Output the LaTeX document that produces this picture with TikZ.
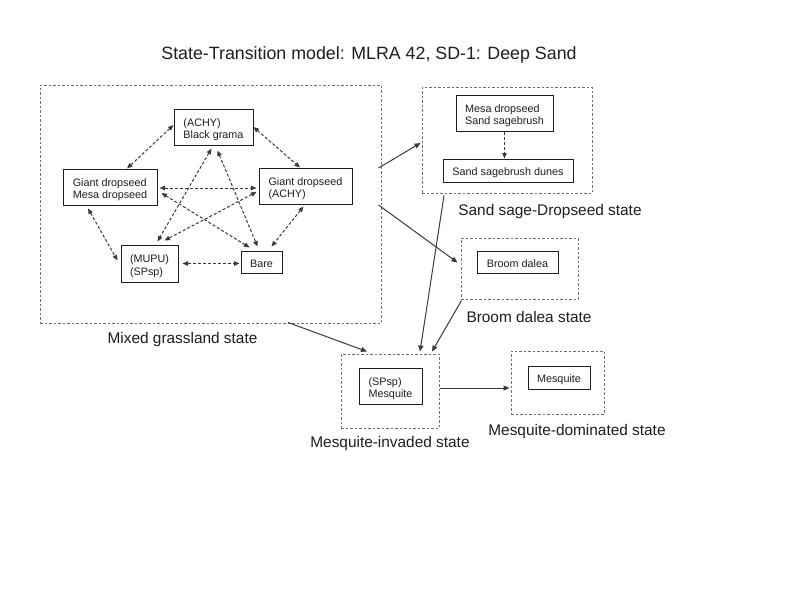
\documentclass[tikz,border=0pt]{standalone}
\usepackage{fontspec}
\setmainfont{Liberation Sans}
\usetikzlibrary{arrows.meta,calc}
\definecolor{txt}{HTML}{1E1E1E}
\definecolor{dashbox}{HTML}{707070}
\definecolor{arr}{HTML}{3A3A3A}
\newcommand{\upstrut}{\rule{0pt}{13pt}}
\tikzset{
  twobox/.style={draw=txt, line width=1pt, align=left, inner sep=0pt, text=txt,
    font=\fontsize{10.8}{12.7}\selectfont},
  box/.style={twobox, execute at begin node={\rule{0pt}{12pt}}},
  statebox/.style={draw=dashbox, line width=1pt, dash pattern=on 2.5pt off 2pt},
  statelabel/.style={text=txt, inner sep=0pt, font=\fontsize{15.4}{18}\selectfont},
  dasharrow/.style={draw=arr, line width=1pt, dash pattern=on 3pt off 2pt,
    {Triangle[length=5.5pt,width=4.5pt]}-{Triangle[length=5.5pt,width=4.5pt]}},
  onedash/.style={draw=arr, line width=1pt, dash pattern=on 3pt off 2pt,
    -{Triangle[length=5.5pt,width=4.5pt]}},
  solidarrow/.style={draw=arr, line width=1pt, -{Triangle[length=6pt,width=5pt]}},
}
\begin{document}
\begin{tikzpicture}[x=1pt,y=-1pt]
\fill[white] (0,0) rectangle (800,600);
\useasboundingbox (0,0) rectangle (800,600);

% title
\node[text=txt, inner sep=0pt, font=\fontsize{17.8}{20}\selectfont] (title) at (369,55) {State-Transition model: MLRA 42, SD-1: Deep Sand};

% state boxes
\node[statebox, minimum width=341pt, minimum height=238pt] (mixed) at (210.5,204) {};
\node[statebox, minimum width=170pt, minimum height=106pt] (sandbox) at (507,140) {};
\node[statebox, minimum width=117pt, minimum height=61pt] (broombox) at (519.5,268.5) {};
\node[statebox, minimum width=98pt, minimum height=74pt] (invbox) at (390,391) {};
\node[statebox, minimum width=93pt, minimum height=63pt] (dombox) at (557.5,382.5) {};

% state labels
\node[statelabel] (mixedlab) at (182.5,339.5) {Mixed grassland state};
\node[statelabel] (sandlab) at (550,211.5) {Sand sage-Dropseed state};
\node[statelabel] (broomlab) at (529,316.5) {Broom dalea state};
\node[statelabel] (invlab) at (390,443.5) {Mesquite-invaded state};
\node[statelabel] (domlab) at (577,431.5) {Mesquite-dominated state};

% community boxes
\node[twobox, minimum width=79pt, minimum height=36pt] (achy) at (213.5,127) {\upstrut(ACHY)\\Black grama};
\node[twobox, minimum width=94pt, minimum height=36pt] (gm) at (110,187) {\upstrut Giant dropseed\\Mesa dropseed};
\node[twobox, minimum width=93pt, minimum height=36pt] (ga) at (305.5,186) {\upstrut Giant dropseed\\(ACHY)};
\node[twobox, minimum width=57pt, minimum height=37pt] (mupu) at (149.5,263.5) {\upstrut(MUPU)\\(SPsp)};
\node[box, minimum width=41pt, minimum height=22pt] (bare) at (261.5,262) {Bare};

\node[twobox, minimum width=97pt, minimum height=36pt] (msb) at (504.5,113) {\upstrut Mesa dropseed\\Sand sagebrush};
\node[box, minimum width=130pt, minimum height=23pt] (dunes) at (508,170.5) {Sand sagebrush dunes};
\node[box, minimum width=81pt, minimum height=22pt] (broom) at (517.5,262) {Broom dalea};
\node[twobox, minimum width=63pt, minimum height=36pt] (inv) at (390.5,386) {\upstrut(SPsp)\\Mesquite};
\node[box, minimum width=62pt, minimum height=23pt] (dom) at (559,377.5) {Mesquite};

% dashed transitions in mixed grassland
\draw[dasharrow] ($(achy.west)+(0,-2)$) -- ($(gm.north)+(17,0)$);
\draw[dasharrow] ($(achy.east)+(0,0)$) -- ($(ga.north)+(-5.5,0)$);
\draw[dasharrow] ($(gm.east)+(2,1)$) -- ($(ga.west)+(-2,2)$);
\draw[dasharrow] ($(gm.east)+(4,6)$) -- ($(bare.north)+(-12,-3)$);
\draw[dasharrow] ($(ga.west)+(-2,6)$) -- ($(mupu.north)+(15,-4)$);
\draw[dasharrow] ($(achy.south)+(-2,3)$) -- ($(mupu.north)+(8,-3)$);
\draw[dasharrow] ($(achy.south)+(4,5)$) -- ($(bare.north)+(-4,-4)$);
\draw[dasharrow] ($(ga.south)+(-2,2)$) -- ($(bare.north)+(10,-4)$);
\draw[dasharrow] ($(gm.south)+(-22,3)$) -- ($(mupu.west)+(-3,-3)$);
\draw[dasharrow] ($(mupu.east)+(4,0)$) -- ($(bare.west)+(-1,1.5)$);

% sand sage internal
\draw[onedash] (msb.south) -- (msb.south |- dunes.north);

% solid transitions
\draw[solidarrow] ($(mixed.east)+(-3,-36)$) -- ($(sandbox.west)+(-1,3)$);
\draw[solidarrow] ($(mixed.east)+(-3,1)$) -- ($(broombox.west)+(-3,-6)$);
\draw[solidarrow] ($(sandbox.south)+(-63,2)$) -- ($(invbox.north)+(30,-2)$);
\draw[solidarrow] ($(broombox.south west)+(1,1)$) -- ($(invbox.north)+(42,-2)$);
\draw[solidarrow] ($(mixed.south)+(77.5,-1)$) -- ($(invbox.north)+(-23,-2)$);
\draw[solidarrow] ($(invbox.east)+(0,-3)$) -- ($(dombox.west)+(-1,5.5)$);
\end{tikzpicture}
\end{document}
